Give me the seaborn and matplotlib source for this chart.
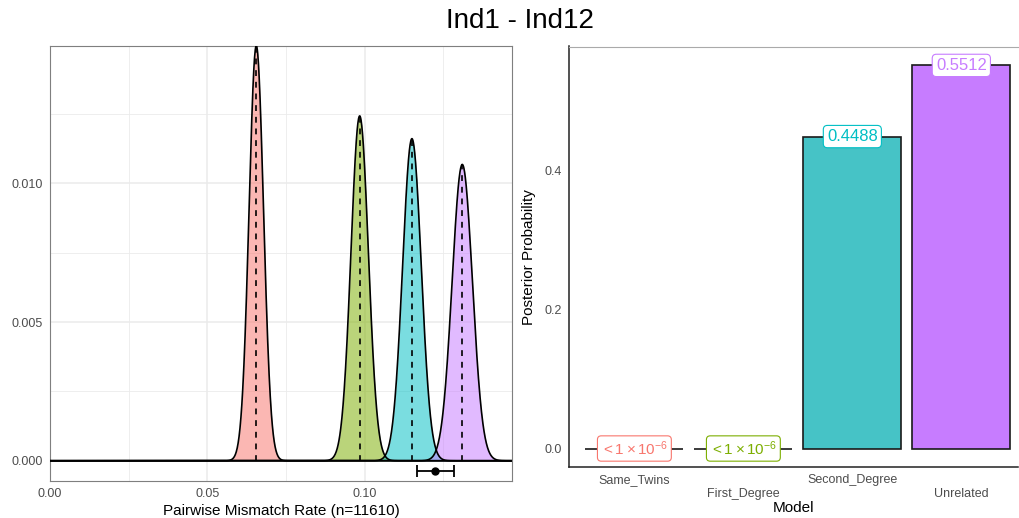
import numpy as np
import pandas as pd
import matplotlib
matplotlib.use("Agg")
import matplotlib.pyplot as plt
import seaborn as sns

# ---------------- data ----------------
n_sites = 11610
models = ["Same_Twins", "First_Degree", "Second_Degree", "Unrelated"]
colors = ["#F8766D", "#7CAE00", "#00BFC4", "#C77CFF"]
bar_colors = ["#F8766D", "#7CAE00", "#46C3C6", "#C77CFF"]
# expected mismatch rate under each model and peak probability mass
dist_means = [0.06555, 0.0984, 0.1150, 0.1310]
dist_peaks = [0.01496, 0.01243, 0.01161, 0.01068]
# observed mismatch rate with interval
obs_rate = 0.1224
obs_low = 0.1165
obs_high = 0.1285
# posterior probabilities
posterior = [1e-7, 1e-7, 0.4488, 0.5512]
posterior_labels = [r"$<1\times10^{-6}$", r"$<1\times10^{-6}$", "0.4488", "0.5512"]
label_sizes = [11, 11, 12, 12]

# ---------------- style ----------------
sns.set_theme(style="white")
plt.rcParams["font.family"] = ["Liberation Sans", "DejaVu Sans"]
plt.rcParams["text.color"] = "black"
plt.rcParams["axes.labelcolor"] = "black"
plt.rcParams["mathtext.fontset"] = "custom"
plt.rcParams["mathtext.rm"] = "Liberation Sans"
plt.rcParams["mathtext.it"] = "Liberation Sans:italic"

fig = plt.figure(figsize=(10.19, 5.18), dpi=100)
W, H = 1019, 518
def ax_rect(l, t, r, b):
    return [l / W, 1 - b / H, (r - l) / W, (b - t) / H]

ax1 = fig.add_axes(ax_rect(50, 45.7, 512, 481))
ax2 = fig.add_axes(ax_rect(569, 46.5, 1018, 467))

tick_col = "#4D4D4D"

# ---------------- left panel: distributions ----------------
xgrid = np.linspace(0, 0.1468, 2000)
rows = []
for m, mu, pk in zip(models, dist_means, dist_peaks):
    sd = 1.0 / (np.sqrt(2 * np.pi) * pk * n_sites)
    y = pk * np.exp(-0.5 * ((xgrid - mu) / sd) ** 2)
    rows.append(pd.DataFrame({"rate": xgrid, "dens": y, "model": m}))
df = pd.concat(rows, ignore_index=True)

for m, c in zip(models, colors):
    sub = df[df.model == m]
    ax1.fill_between(sub.rate, 0, sub.dens, color=c, alpha=0.52, lw=0, zorder=2)
sns.lineplot(data=df, x="rate", y="dens", units="model", estimator=None,
             color="black", lw=1.2, ax=ax1, zorder=3, legend=False)
for mu, pk in zip(dist_means, dist_peaks):
    ax1.plot([mu, mu], [0, pk], color="black", lw=1.2, ls=(0, (3.5, 3.5)), zorder=4)

ey = -0.00036
ax1.errorbar([obs_rate], [ey], xerr=[[obs_rate - obs_low], [obs_high - obs_rate]],
             fmt="o", color="black", ms=5, capsize=4, lw=1.3, capthick=1.3, zorder=5)

ax1.set_xlim(0, 0.1468)
ax1.set_ylim(-0.00073, 0.01496)
ax1.set_xticks([0, 0.05, 0.10])
ax1.set_xticklabels(["0.00", "0.05", "0.10"])
ax1.set_xticks([0.025, 0.075, 0.125], minor=True)
ax1.set_yticks([0, 0.005, 0.010])
ax1.set_yticklabels(["0.000", "0.005", "0.010"])
ax1.set_yticks([0.0025, 0.0075, 0.0125], minor=True)
ax1.grid(True, which="major", color="#EBEBEB", lw=1.1, zorder=0)
ax1.grid(True, which="minor", color="#EBEBEB", lw=0.6, zorder=0)
ax1.set_axisbelow(True)
ax1.set_xlabel("Pairwise Mismatch Rate (n=11610)", fontsize=11, color="black", labelpad=3)
ax1.set_ylabel("")
ax1.tick_params(axis="both", which="major", length=3, width=0.8, color="#333333",
                labelsize=9, labelcolor=tick_col, pad=2)
ax1.tick_params(axis="both", which="minor", length=0)
for s in ax1.spines.values():
    s.set_color("#7F7F7F")
    s.set_linewidth(0.8)

# ---------------- right panel: posterior bars ----------------
bdf = pd.DataFrame({"Model": models, "Posterior": posterior})
sns.barplot(data=bdf, x="Model", y="Posterior", hue="Model", palette=bar_colors,
            width=0.9, edgecolor="#1A1A1A", linewidth=1.2, ax=ax2, legend=False,
            saturation=1, zorder=2)
for i, (v, lab, c, fs) in enumerate(zip(posterior, posterior_labels, colors, label_sizes)):
    ax2.text(i, v, lab, ha="center", va="center", fontsize=fs, color=c, zorder=5,
             bbox=dict(boxstyle="round,pad=0.22,rounding_size=0.25", fc="white", ec=c, lw=0.8))

ax2.set_xlim(-0.6, 3.52)
ax2.set_ylim(-0.0266, 0.5784)
ax2.set_yticks([0, 0.2, 0.4])
ax2.set_yticklabels(["0.0", "0.2", "0.4"])
ax2.set_xticks(range(4))
ax2.set_xticklabels([m if i % 2 == 0 else "\n" + m for i, m in enumerate(models)])
ax2.set_xlabel("Model", fontsize=11, color="black", labelpad=1)
ax2.set_ylabel("Posterior Probability", fontsize=11, color="black", labelpad=6)
ax2.tick_params(axis="both", length=3, width=0.8, color="#333333",
                labelsize=9, labelcolor=tick_col, pad=2)
ax2.grid(False)
ax2.spines["right"].set_visible(False)
ax2.spines["top"].set_color("#AAAAAA")
ax2.spines["top"].set_linewidth(0.8)
for s in ["left", "bottom"]:
    ax2.spines[s].set_color("#222222")
    ax2.spines[s].set_linewidth(1.1)

fig.suptitle("Ind1 - Ind12", x=0.51, y=0.985, fontsize=20, va="top", color="black")

fig.savefig("out.png", dpi=100)
